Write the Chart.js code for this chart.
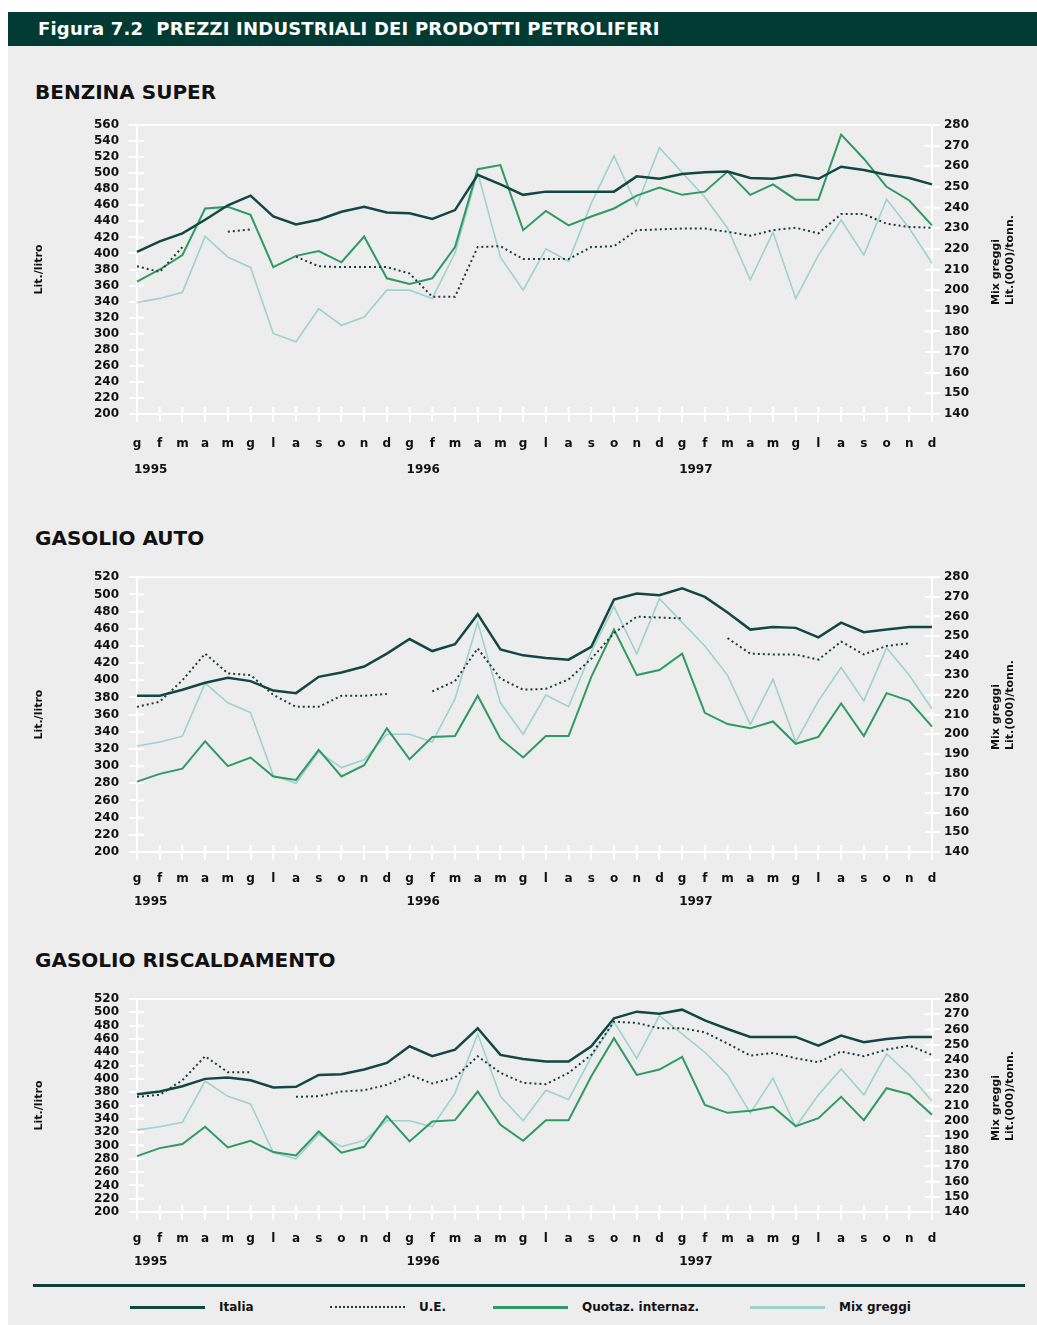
<!DOCTYPE html>
<html lang="it">
<head>
<meta charset="utf-8">
<title>Figura 7.2 Prezzi industriali dei prodotti petroliferi</title>
<script src="https://cdn.jsdelivr.net/npm/chart.js@4.4.1/dist/chart.umd.min.js"></script>
<style>
body { margin:0; background:#fff; width:1037px; height:1325px; position:relative; overflow:hidden; font-family:"DejaVu Sans", sans-serif; color:#111; }
#fondo { position:absolute; left:8px; top:46px; width:1029px; height:1279px; background:#ededed; }
#barra { position:absolute; left:8px; top:12px; width:1029px; height:34px; background:#023b33; color:#fff; font-weight:bold; font-size:18px; line-height:34px; padding-left:30px; box-sizing:border-box; letter-spacing:0.2px; }
.titolo { position:absolute; left:35px; font-weight:bold; font-size:20px; line-height:22px; }
.box { position:absolute; left:20px; width:1017px; }
.destra { position:absolute; font-size:11px; font-weight:bold; line-height:14px; white-space:nowrap; text-align:left; transform:translate(-50%,-50%) rotate(-90deg); }
#sep { position:absolute; left:33px; top:1284px; width:992px; height:3px; background:#0e3f38; }
#legenda { position:absolute; top:1298px; left:0; width:1037px; height:18px; font-size:12px; font-weight:bold; }
.voce { position:absolute; top:0; height:18px; display:flex; align-items:center; white-space:nowrap; }
.campione { width:75px; height:0; margin-right:14px; }
</style>
</head>
<body>
<div id="fondo"></div>
<div id="barra">Figura 7.2&nbsp; PREZZI INDUSTRIALI DEI PRODOTTI PETROLIFERI</div>

<div class="titolo" style="top:81px">BENZINA SUPER</div>
<div class="box" style="top:105px;height:385px"><canvas id="benzina"></canvas></div>

<div class="titolo" style="top:527px">GASOLIO AUTO</div>
<div class="box" style="top:560px;height:360px"><canvas id="gasolio"></canvas></div>

<div class="titolo" style="top:949px">GASOLIO RISCALDAMENTO</div>
<div class="box" style="top:980px;height:295px"><canvas id="riscaldamento"></canvas></div>

<div id="sep"></div>
<div id="legenda"></div>

<script>
// mesi e anni (asse x)
const mesi = ["g","f","m","a","m","g","l","a","s","o","n","d"]
const anni = ["1995","1996","1997"]

// Benzina super - Lit./litro
const benzItalia = [402,415,425,442,460,472,446,436,442,452,458,451,450,443,454,498,486,473,477,477,477,477,496,493,499,501,502,494,493,498,493,508,504,498,494,486]
const benzUE = [384,377,408,null,427,430,null,396,384,383,383,383,375,346,346,408,409,393,393,393,408,409,429,430,431,431,427,422,429,432,425,449,449,437,433,432]
const benzQuotaz = [365,380,398,456,458,448,383,397,403,389,421,369,362,369,408,505,510,429,453,435,446,456,472,482,473,477,502,473,486,467,467,548,518,483,466,435]

// Gasolio auto
const gasItalia = [382,382,389,397,403,399,388,385,404,409,416,431,448,434,442,477,436,429,426,424,439,494,501,499,507,497,479,459,462,461,450,467,456,459,462,462]
const gasUE = [369,375,400,431,408,406,383,369,369,382,382,384,null,387,399,437,402,389,390,401,425,455,474,473,472,null,449,431,430,430,424,445,430,440,443,null]
const gasQuotaz = [282,291,297,329,300,310,288,284,319,288,301,344,308,334,335,382,332,310,335,335,404,459,406,412,431,362,349,344,352,326,334,373,335,385,376,346]

// Gasolio riscaldamento
const riscItalia = [377,381,389,400,402,398,387,388,406,407,414,424,449,434,444,476,436,430,426,426,449,491,501,498,504,488,475,463,463,463,450,465,455,460,463,463]
const riscUE = [373,376,398,434,410,410,null,373,374,381,383,391,406,393,402,434,409,394,392,409,436,486,484,476,476,470,453,435,439,431,425,441,434,444,450,436]
const riscQuotaz = [284,296,302,328,297,307,290,285,321,289,298,344,306,336,338,381,331,307,338,338,404,461,406,414,433,361,349,352,358,329,341,373,338,386,377,346]

// Mix greggi (asse destro) - uguale nei tre grafici
const mixGreggi = [194,196,199,226,216,211,179,175,191,183,187,200,200,196,218,257,216,200,220,214,242,265,241,269,257,245,230,205,228,196,217,234,217,244,230,213]

// stile delle serie
const serie = [
    {nome: "Italia", colore: "#134841", spessore: 2.5, tratto: []},
    {nome: "U.E.", colore: "#1f3d39", spessore: 2, tratto: [2, 3]},
    {nome: "Quotaz. internaz.", colore: "#2f9a62", spessore: 2, tratto: []},
    {nome: "Mix greggi", colore: "#9ed3cc", spessore: 1.6, tratto: []}
]
const posLegenda = [130, 330, 493, 750]

let etichette = []
anni.forEach(() => { etichette = etichette.concat(mesi) })

const fontTick = {family: "DejaVu Sans", weight: "bold", size: 12}

// tacche bianche interne, bordo superiore e anni sotto l'asse x
const tacche = {
    id: "tacche",
    beforeDatasetsDraw(chart) {
        const {ctx, chartArea: a, scales} = chart
        ctx.save()
        ctx.strokeStyle = "#fff"
        ctx.lineWidth = 2
        ctx.beginPath()
        ctx.moveTo(a.left, a.top)
        ctx.lineTo(a.right, a.top)
        scales.x.ticks.forEach((t, i) => {
            let px = scales.x.getPixelForTick(i)
            ctx.moveTo(px, a.bottom)
            ctx.lineTo(px, a.bottom - 7)
        })
        scales.y.ticks.forEach((t, i) => {
            let py = scales.y.getPixelForTick(i)
            ctx.moveTo(a.left, py)
            ctx.lineTo(a.left + 7, py)
        })
        scales.y1.ticks.forEach((t, i) => {
            let py = scales.y1.getPixelForTick(i)
            ctx.moveTo(a.right, py)
            ctx.lineTo(a.right - 7, py)
        })
        ctx.stroke()
        ctx.restore()
    },
    afterDraw(chart, args, opts) {
        const {ctx, chartArea: a, scales} = chart
        ctx.save()
        ctx.fillStyle = "#111"
        ctx.font = "bold 12px 'DejaVu Sans'"
        ctx.textAlign = "left"
        ctx.textBaseline = "middle"
        anni.forEach((anno, k) => {
            let px = scales.x.getPixelForValue(k * 12)
            ctx.fillText(anno, px - 3, a.bottom + opts.offsetAnni)
        })
        ctx.restore()
    }
}

function creaGrafico(idCanvas, maxSinistra, italia, ue, quotaz, padTop, altezzaX, padTick, offsetAnni){
    let valori = [italia, ue, quotaz, mixGreggi]
    let datasets = serie.map((s, i) => ({
        label: s.nome,
        data: valori[i],
        borderColor: s.colore,
        borderWidth: s.spessore,
        borderDash: s.tratto,
        pointRadius: 0,
        tension: 0,
        fill: false,
        yAxisID: i == 3 ? "y1" : "y"
    }))

    let ctx = document.getElementById(idCanvas).getContext("2d")
    return new Chart(ctx, {
        type: "line",
        data: {labels: etichette, datasets: datasets},
        plugins: [tacche],
        options: {
            responsive: true,
            maintainAspectRatio: false,
            animation: false,
            layout: {padding: {top: padTop, left: 0, right: 0, bottom: 0}},
            plugins: {
                legend: {display: false},
                tooltip: {enabled: false},
                tacche: {offsetAnni: offsetAnni}
            },
            scales: {
                x: {
                    grid: {drawOnChartArea: false, color: "#fff", lineWidth: 2, tickLength: 8},
                    border: {color: "#fff", width: 2},
                    ticks: {autoSkip: false, maxRotation: 0, color: "#111", font: fontTick, padding: padTick},
                    afterFit: (s) => { s.height = altezzaX }
                },
                y: {
                    position: "left",
                    min: 200, max: maxSinistra,
                    grid: {drawOnChartArea: false, color: "#fff", lineWidth: 2, tickLength: 8},
                    border: {color: "#fff", width: 2},
                    ticks: {stepSize: 20, autoSkip: false, color: "#111", font: fontTick, padding: 10},
                    title: {display: true, text: "Lit./litro", color: "#111", font: {family: "DejaVu Sans", weight: "bold", size: 11}, padding: {top: 13}},
                    afterFit: (s) => { s.width = 117 }
                },
                y1: {
                    position: "right",
                    min: 140, max: 280,
                    grid: {drawOnChartArea: false, color: "#fff", lineWidth: 2, tickLength: 8},
                    border: {color: "#fff", width: 2},
                    ticks: {stepSize: 10, autoSkip: false, color: "#111", font: fontTick, padding: 4},
                    afterFit: (s) => { s.width = 105 }
                }
            }
        }
    })
}

let grafici = [
    creaGrafico("benzina", 560, benzItalia, benzUE, benzQuotaz, 20, 76, 15, 56),
    creaGrafico("gasolio", 520, gasItalia, gasUE, gasQuotaz, 17, 68, 12, 50),
    creaGrafico("riscaldamento", 520, riscItalia, riscUE, riscQuotaz, 19, 63, 12, 50)
]

// titolo asse destro (ruotato dal basso verso l'alto)
grafici.forEach((g) => {
    let box = g.canvas.parentNode
    let a = g.chartArea
    let div = document.createElement("div")
    div.className = "destra"
    div.innerHTML = "Mix greggi<br>Lit.(000)/tonn."
    div.style.left = "1003px"
    div.style.top = (box.offsetTop + (a.top + a.bottom) / 2 - 10) + "px"
    document.body.appendChild(div)
})

// legenda in fondo
let legenda = document.getElementById("legenda")
serie.forEach((s, i) => {
    let voce = document.createElement("div")
    voce.className = "voce"
    voce.style.left = posLegenda[i] + "px"
    let campione = document.createElement("div")
    campione.className = "campione"
    campione.style.borderTop = (s.tratto.length ? "2px dotted " : "3px solid ") + s.colore
    voce.appendChild(campione)
    let testo = document.createElement("span")
    testo.textContent = s.nome
    voce.appendChild(testo)
    legenda.appendChild(voce)
})
</script>
</body>
</html>
